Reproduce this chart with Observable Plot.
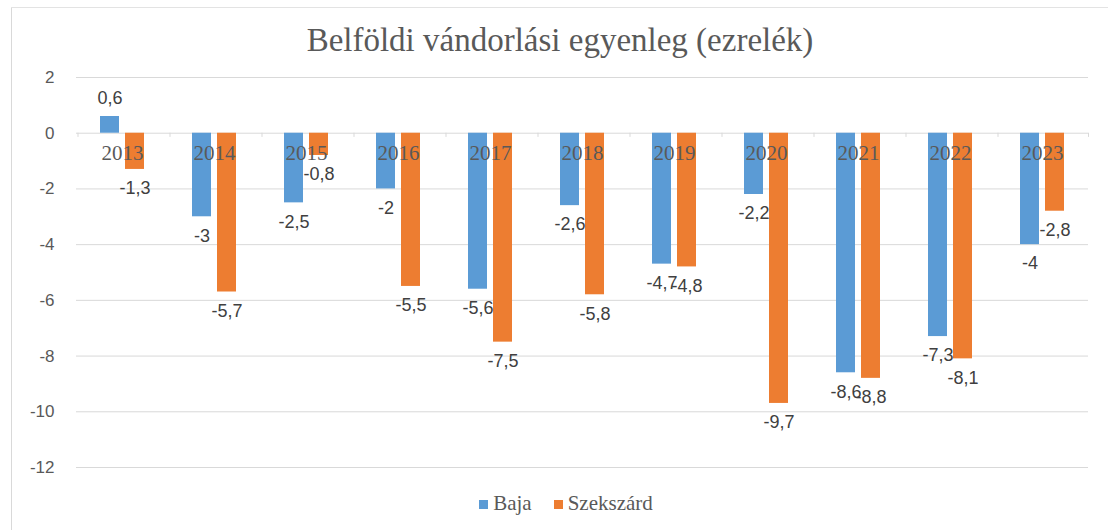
<!DOCTYPE html>
<html>
<head>
<meta charset="utf-8">
<script src="https://cdn.jsdelivr.net/npm/d3@7"></script>
<script src="https://cdn.jsdelivr.net/npm/@observablehq/plot@0.6"></script>
<style>
  html, body { margin: 0; padding: 0; background: #fff; }
  #wrap { position: relative; width: 1108px; height: 530px; overflow: hidden; }
  #title { position: absolute; left: 0; top: 19px; width: 1120px; text-align: center;
    font-family: "Liberation Serif", "DejaVu Serif", serif; font-size: 33px; color: #595959; line-height: 42px; }
  #legend { position: absolute; left: 0; top: 491px; width: 1108px; display: flex; justify-content: center; gap: 22px;
    font-family: "Liberation Serif", serif; font-size: 21px; color: #595959; line-height: 24px; padding-left: 24px; box-sizing: border-box; }
  .sw { display: inline-block; width: 9px; height: 9px; margin-right: 5px; vertical-align: 1px; }
  #bl { position: absolute; left: 11px; top: 7px; width: 1px; height: 523px; background: #d9d9d9; }
  #bt { position: absolute; left: 11px; top: 7px; width: 1097px; height: 1px; background: #e3e3e3; }
</style>
</head>
<body>
<div id="wrap">
  <div id="bl"></div><div id="bt"></div>
  <div id="chart"></div>
  <div id="title">Belföldi vándorlási egyenleg (ezrelék)</div>
  <div id="legend"></div>
</div>
<script>
const years = ["2013","2014","2015","2016","2017","2018","2019","2020","2021","2022","2023"];
const series = ["Baja", "Szekszárd"];
const baja = [0.6, -3, -2.5, -2, -5.6, -2.6, -4.7, -2.2, -8.6, -7.3, -4];
const szekszard = [-1.3, -5.7, -0.8, -5.5, -7.5, -5.8, -4.8, -9.7, -8.8, -8.1, -2.8];
const colors = ["#5B9BD5", "#ED7D31"];
const yTicks = [2, 0, -2, -4, -6, -8, -10, -12];

const data = [];
years.forEach((y, i) => {
  data.push({year: y, series: "Baja", value: baja[i]});
  data.push({year: y, series: "Szekszárd", value: szekszard[i]});
});
const fmt = v => String(v).replace(".", ",");
const textColor = "#595959";

const chart = Plot.plot({
  width: 1108,
  height: 530,
  marginTop: 77,
  marginBottom: 63,
  marginLeft: 75,
  marginRight: 20,
  style: {background: "transparent"},
  fx: {domain: years, padding: 0, axis: null},
  x: {domain: series, paddingInner: 0.24, paddingOuter: 0.9, axis: null},
  y: {domain: [-12, 2], axis: null},
  color: {domain: series, range: colors},
  marks: [
    Plot.gridY(yTicks, {stroke: "#d9d9d9", strokeOpacity: 1, strokeWidth: 1}),
    Plot.axisY(yTicks, {tickSize: 0, tickPadding: 22, tickFormat: d => String(d), label: null,
      fontSize: 17, fontFamily: "Liberation Sans, Arial, sans-serif", fill: textColor}),
    Plot.ruleX(years, {fx: d => d, x: () => "Baja", dx: -32, y1: 0, y2: -0.15, stroke: "#d9d9d9"}),
    Plot.ruleX([years[years.length - 1]], {fx: d => d, x: () => "Szekszárd", dx: 33.5, y1: 0, y2: -0.15, stroke: "#d9d9d9"}),
    Plot.barY(data, {fx: "year", x: "series", y: "value", fill: "series"}),
    Plot.text(years, {fx: d => d, y: () => 0, text: d => d, dy: 20, fontSize: 21,
      fontFamily: "Liberation Serif, serif", fill: textColor}),
    Plot.text(data.filter(d => d.value >= 0), {fx: "year", x: "series", y: "value", text: d => fmt(d.value),
      dy: -18, fontSize: 18, fontFamily: "Liberation Sans, Arial, sans-serif", fill: "#404040"}),
    Plot.text(data.filter(d => d.value < 0), {fx: "year", x: "series", y: "value", text: d => fmt(d.value),
      dy: 19, fontSize: 18, fontFamily: "Liberation Sans, Arial, sans-serif", fill: "#404040"})
  ]
});
document.getElementById("chart").appendChild(chart);

const legend = document.getElementById("legend");
series.forEach((s, i) => {
  const item = document.createElement("span");
  const sw = document.createElement("span");
  sw.className = "sw";
  sw.style.background = colors[i];
  item.appendChild(sw);
  item.appendChild(document.createTextNode(s));
  legend.appendChild(item);
});
</script>
</body>
</html>
